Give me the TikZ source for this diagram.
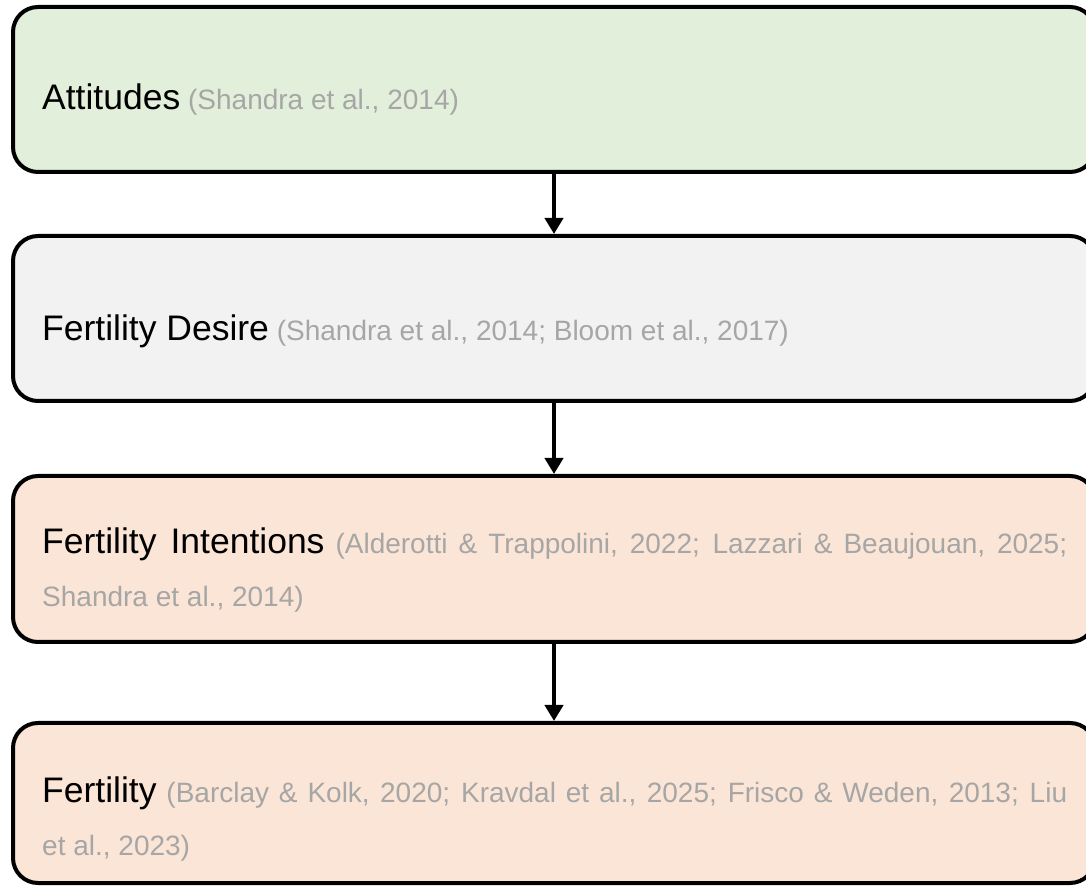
\documentclass[tikz,border=0pt]{standalone}
\usepackage{fontspec}
\setmainfont{Liberation Sans}
\usepackage{xcolor}
\usetikzlibrary{arrows.meta}
\definecolor{boxgreen}{HTML}{E2EFDA}
\definecolor{boxgrey}{HTML}{F2F2F2}
\definecolor{boxpeach}{HTML}{FBE5D6}
\definecolor{citegrey}{HTML}{A6A6A6}
\newcommand{\stagename}[1]{{\fontsize{35.5}{53}\selectfont\color{black}#1}}

\begin{document}
\begin{tikzpicture}[x=1pt,y=1pt,
  stagebox/.style={draw=black,line width=4pt,rounded corners=25pt,minimum width=1082pt,inner sep=0pt},
  stagetext/.style={anchor=base west,inner sep=0pt,text width=1025pt,align=justify,text=citegrey,font=\fontsize{28}{53}\selectfont},
  flow/.style={-{Triangle[length=16pt,width=18pt]},line width=4pt}]
\useasboundingbox (0,0) rectangle (1086,886);
\node[stagebox,fill=boxgreen,minimum height=165pt] (att) at (554,796.5) {};
  \node[stagetext] (attT) at (42,776) {\stagename{Attitudes} (Shandra et al., 2014)};
\node[stagebox,fill=boxgrey,minimum height=165pt] (des) at (554,567.5) {};
  \node[stagetext] (desT) at (42,545) {\stagename{Fertility Desire} (Shandra et al., 2014; Bloom et al., 2017)};
\node[stagebox,fill=boxpeach,minimum height=166pt] (int) at (554,327) {};
  \node[stagetext] (intT) at (42,332) {\stagename{Fertility Intentions} (Alderotti \& Trappolini, 2022; Lazzari \& Beaujouan, 2025;\linebreak Shandra et al., 2014)};
\node[stagebox,fill=boxpeach,minimum height=160pt] (fer) at (554,83) {};
  \node[stagetext] (ferT) at (42,84) {\stagename{Fertility} (Barclay \& Kolk, 2020; Kravdal et al., 2025; Frisco \& Weden, 2013; Liu\linebreak et al., 2023)};
\draw[flow] (att) -- (des);
\draw[flow] (des) -- (int);
\draw[flow] (int) -- (fer);
\end{tikzpicture}
\end{document}
